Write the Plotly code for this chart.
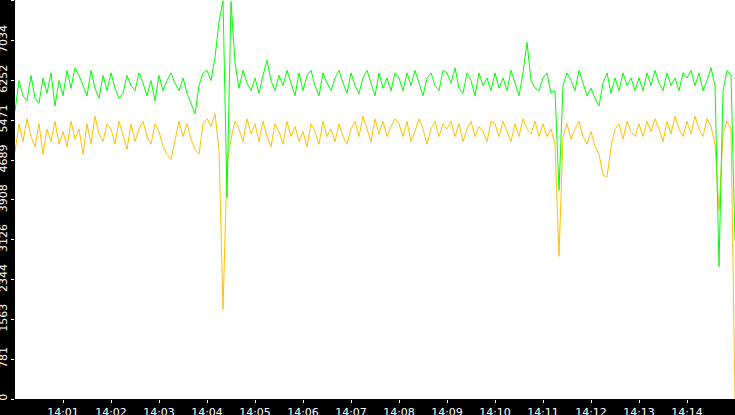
import pandas as pd
import plotly.graph_objects as go

times = pd.date_range("2024-01-01 14:00:00", periods=181, freq="5s")

green = [
5650,6250,5950,5850,6350,5900,5800,6300,6000,6400,5750,6250,
5950,6450,6100,6500,6350,6150,5950,6450,6100,5900,6350,6050,
6400,6100,5900,6000,6350,6150,6050,6400,6200,5950,6250,5850,
6350,6050,6250,6400,6200,6050,6300,6000,5800,5600,6150,6400,
6450,6250,6700,7400,7816,3950,7800,6600,6100,6450,6200,6050,
6300,6000,6350,6650,6250,6050,6350,6150,6450,6200,5950,6400,
6050,6350,6450,6150,5950,6400,6200,6050,6300,6450,6200,6000,
6400,6150,6000,6300,6450,6200,5950,6400,6100,6300,6050,6400,
6300,6050,6400,6150,6450,6200,5950,6300,6400,6150,6050,6450,
6400,6200,6500,6100,6000,6400,6250,5950,6400,6150,6300,6050,
6400,6100,6300,6050,6450,6200,5950,6400,7000,6250,6100,6050,
6300,6400,6000,6050,4100,6150,6400,6250,6050,6450,6200,5950,
6100,5900,5750,6200,6400,6000,6300,6050,6400,6150,6300,6050,
6300,6050,6400,6150,6450,6200,6050,6400,6150,6300,6050,6400,
6300,6450,6150,6400,6050,6250,6500,6150,2600,6050,6450,6350,
3100]

orange = [
4850,5400,5050,5500,5150,4950,5400,4800,5300,5050,5450,5000,
5250,4950,5450,5100,5300,4800,5400,5000,5550,5200,5050,5400,
5300,5000,5450,5150,4900,5400,5050,5300,5450,5150,5000,5400,
5250,4950,4800,4700,5050,5450,5150,5400,5100,4900,4800,5400,
5500,5350,5600,4900,1760,4600,5100,5450,5300,5050,5500,5200,
5400,5050,5450,5150,4950,5400,5250,5000,5450,5150,5350,5050,
5250,4950,5400,5250,5000,5450,5150,5300,5050,5400,5150,5000,
5300,5450,5150,5550,5300,5050,5500,5200,5450,5150,5350,5500,
5400,5150,5450,5050,5250,5500,5300,5000,5300,5450,5150,5400,
5300,5450,5150,5400,5050,5300,5450,5150,5350,5250,5050,5450,
5400,5150,5450,5250,5050,5400,5150,5500,5300,5200,5450,5150,
5400,5150,5300,5000,2800,5150,5400,5100,5300,5450,5150,5000,
5250,4950,4800,4400,4350,4950,5300,5400,5100,5450,5250,5150,
5400,5150,5450,5250,5500,5300,5050,5450,5200,5550,5300,5150,
5450,5200,5550,5300,5150,5500,5350,5000,3700,5200,5450,5300,
0]

ytick_vals = [0, 781, 1563, 2344, 3126, 3908, 4689, 5471, 6252, 7034, 7816]
xtick_vals = pd.date_range("2024-01-01 14:01:00", periods=15, freq="1min")
xtick_text = [t.strftime("%H:%M") for t in xtick_vals]

fig = go.Figure()
fig.add_trace(go.Scatter(x=times, y=orange, mode="lines",
                         line=dict(color="#ffc000", width=1)))
fig.add_trace(go.Scatter(x=times, y=green, mode="lines",
                         line=dict(color="#00ff00", width=1)))
fig.update_layout(
    width=735, height=415, showlegend=False,
    margin=dict(l=15, r=0, t=0, b=16, pad=0, autoexpand=False),
    paper_bgcolor="black", plot_bgcolor="white",
    font=dict(family="DejaVu Sans", color="white", size=11),
)
fig.update_xaxes(range=[times[0], times[-1]], tickvals=xtick_vals, ticktext=xtick_text,
                 showgrid=False, zeroline=False, ticks="outside", ticklen=3,
                 tickcolor="white", tickfont=dict(size=11), automargin=False,
                 ticklabelstandoff=0)
fig.update_yaxes(range=[0, 7830], tickvals=ytick_vals, showgrid=False, zeroline=False,
                 ticks="outside", ticklen=3, tickcolor="white", tickangle=-90,
                 tickfont=dict(size=11), automargin=False, ticklabelstandoff=0)
fig.write_html("out.html", config={"displayModeBar": False},
               post_script="document.body.style.margin='0';document.body.style.background='black';")
